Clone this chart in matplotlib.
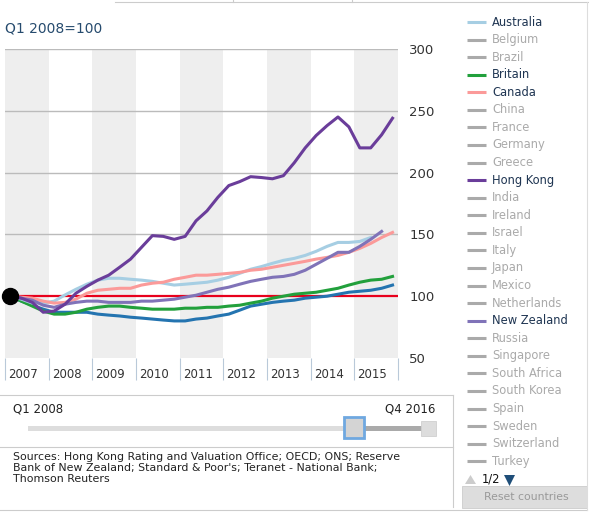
import matplotlib
matplotlib.use("Agg")
import matplotlib.pyplot as plt
from matplotlib.patches import Rectangle, Polygon
import numpy as np

# quarterly index, Q1 2008 = 100
start_year = 2007.125
step = 0.25

hong_kong = [100, 98.4, 95, 87, 88, 93.5, 102.4, 108, 113, 117, 123.4, 130, 139.5, 149,
             148.4, 146, 148.4, 161, 169, 180, 189.5, 192.7, 196.7, 196, 195, 197.5, 208,
             220, 230, 238, 245, 237, 220, 220, 230.6, 244]
australia = [100, 97.6, 94.4, 94.4, 96, 101, 105.6, 109.7, 113, 114.5, 114.5, 113.7, 113,
             112, 110.5, 109, 109.7, 110.5, 111.3, 113, 115.3, 118.5, 121.8, 124, 126.6, 129,
             130.6, 133, 136.3, 140.3, 143.5, 143.5, 144.3, 147.5]
canada = [100, 99.2, 98.4, 96, 94.4, 95, 97.6, 102.4, 104.8, 105.6, 106.4, 106.4, 109, 110.5,
          111.3, 113.7, 115.3, 117, 117, 117.7, 118.5, 119.3, 121, 121.8, 123.4, 125, 126.6,
          128.2, 130, 131.4, 133, 135.5, 138.7, 142.7, 147.5, 151.6]
new_zealand = [100, 98.4, 96.8, 92.7, 91, 93.5, 95, 96, 96, 95, 95, 95, 96, 96, 96.8, 97.6,
               99.2, 100.8, 103.2, 105.6, 107.3, 109.7, 112, 113.7, 115.3, 116, 117.7, 121,
               125.8, 130.6, 135.5, 135.5, 140.3, 146, 152.4]
britain = [100, 96, 92, 88, 85.5, 85.5, 87, 89.5, 91, 92, 92, 91, 90.3, 89.5, 89.5, 89.5,
           90.3, 90.3, 91, 91, 92, 92.7, 94.4, 96, 98.4, 100, 101.6, 102.4, 103.2, 104.8,
           106.4, 109, 111.3, 113, 113.7, 116]
# series whose legend entry is on page 2
other = [100, 96, 92.7, 89.5, 87, 87, 87, 87, 85.5, 84.7, 84, 83, 82.3, 81.5, 80.7, 80, 80,
         81.5, 82.3, 84, 85.5, 88.7, 92, 93.5, 95, 96, 96.8, 98.4, 99.2, 100, 101.6, 103.2,
         104, 104.8, 106.4, 109]

years = list(range(2007, 2016))
y_ticks = [50, 100, 150, 200, 250, 300]

countries = ["Australia", "Belgium", "Brazil", "Britain", "Canada", "China", "France",
             "Germany", "Greece", "Hong Kong", "India", "Ireland", "Israel", "Italy", "Japan",
             "Mexico", "Netherlands", "New Zealand", "Russia", "Singapore", "South Africa",
             "South Korea", "Spain", "Sweden", "Switzerland", "Turkey"]
active_colors = {"Australia": "#a6cee3", "Britain": "#22a03c", "Canada": "#fb9a99",
                 "Hong Kong": "#6a3d9a", "New Zealand": "#8073b8"}

def qx(vals):
    return start_year + step * np.arange(len(vals))

W, H = 589, 518
fig = plt.figure(figsize=(W / 100, H / 100), dpi=100)
fig.patch.set_facecolor("white")

ax = fig.add_axes([5 / W, 1 - 358 / H, 393 / W, 309 / H])
ax.set_xlim(2007, 2016)
ax.set_ylim(50, 300)
for y in years[::2]:
    ax.axvspan(y, y + 1, color="#eeeeee", lw=0, zorder=0)
for t in y_ticks[2:]:
    ax.axhline(t, color="#bbbbbb", lw=1, zorder=1)
ax.axhline(100, color="#e8001c", lw=1.6, zorder=2)

ax.plot(qx(other), other, color="#2474b0", lw=2.2, zorder=3)
ax.plot(qx(britain), britain, color=active_colors["Britain"], lw=2.2, zorder=3)
ax.plot(qx(australia), australia, color=active_colors["Australia"], lw=2.2, zorder=3)
ax.plot(qx(canada), canada, color=active_colors["Canada"], lw=2.2, zorder=3)
ax.plot(qx(new_zealand), new_zealand, color=active_colors["New Zealand"], lw=2.2, zorder=4)
ax.plot(qx(hong_kong), hong_kong, color=active_colors["Hong Kong"], lw=2.2, zorder=5)
ax.plot([start_year], [100], "o", color="black", ms=11.5, zorder=6, clip_on=False)

for s in ax.spines.values():
    s.set_visible(False)
ax.yaxis.tick_right()
ax.set_yticks(y_ticks)
ax.set_yticklabels([str(t) for t in y_ticks], fontsize=9.5, color="#333333")
ax.tick_params(axis="y", length=0, pad=8)
ax.set_xticks([])

xt = ax.get_xaxis_transform()
ax.vlines(years + [2016], 0, -0.072, transform=xt, color="#b9c9d9", lw=0.8, clip_on=False)
for y in years:
    ax.text(y + 0.07, -0.055, str(y), transform=xt, fontsize=8.5, color="#333333",
            ha="left", va="center")

# page furniture in pixel coords
ov = fig.add_axes([0, 0, 1, 1], zorder=-1)
ov.set_xlim(0, W)
ov.set_ylim(H, 0)
ov.axis("off")

ov.text(5, 29, "Q1 2008=100", fontsize=10, color="#264b6e", va="center")
ov.plot([115, 589], [2, 2], color="#cccccc", lw=0.8)
for xx in [233, 352]:
    ov.plot([xx, xx], [0, 2], color="#cccccc", lw=0.8)

# slider / sources box
ov.plot([0, 453], [395, 395], color="#cccccc", lw=0.8)
ov.plot([0, 453], [447, 447], color="#cccccc", lw=0.8)
ov.plot([0, 587], [510, 510], color="#cccccc", lw=0.8)
ov.plot([453, 453], [395, 507], color="#cccccc", lw=0.8)
ov.text(13, 409, "Q1 2008", fontsize=8.5, color="#222222", va="center")
ov.text(435, 409, "Q4 2016", fontsize=8.5, color="#222222", va="center", ha="right")
ov.add_patch(Rectangle((28, 426), 407, 5, color="#dddddd", lw=0))
ov.add_patch(Rectangle((360, 426), 66, 5, color="#aaaaaa", lw=0))
ov.add_patch(Rectangle((344, 417), 20, 21, facecolor="#d4d4d4", edgecolor="#6fa8e0", lw=2))
ov.add_patch(Rectangle((421, 421), 15, 15, facecolor="#dddddd", edgecolor="#d0d0d0", lw=0.6))
ov.text(13, 452, "Sources: Hong Kong Rating and Valuation Office; OECD; ONS; Reserve\n"
        "Bank of New Zealand; Standard & Poor's; Teranet - National Bank;\n"
        "Thomson Reuters", fontsize=7.9, color="#222222", va="top", linespacing=1.15)

# country legend
for i, c in enumerate(countries):
    yy = 22 + i * 17.57
    col = active_colors.get(c, "#aaaaaa")
    ov.plot([467, 486], [yy, yy], color=col, lw=2.2, solid_capstyle="butt")
    ov.text(492, yy, c, fontsize=8.3, va="center",
            color="#1f3552" if c in active_colors else "#aaaaaa")
ov.plot([587, 587], [2, 510], color="#dddddd", lw=0.8)
ov.add_patch(Polygon([[465, 484], [476, 484], [470.5, 475]], color="#cccccc", lw=0))
ov.text(482, 479, "1/2", fontsize=8.3, color="#111111", va="center")
ov.add_patch(Polygon([[504, 475], [515, 475], [509.5, 486]], color="#1f4e79", lw=0))
ov.add_patch(Rectangle((462, 486), 125, 22, facecolor="#dddddd", edgecolor="#cccccc", lw=0.6))
ov.text(526, 497, "Reset countries", fontsize=7.8, color="#999999", ha="center", va="center")

fig.savefig("out.png", dpi=100)
